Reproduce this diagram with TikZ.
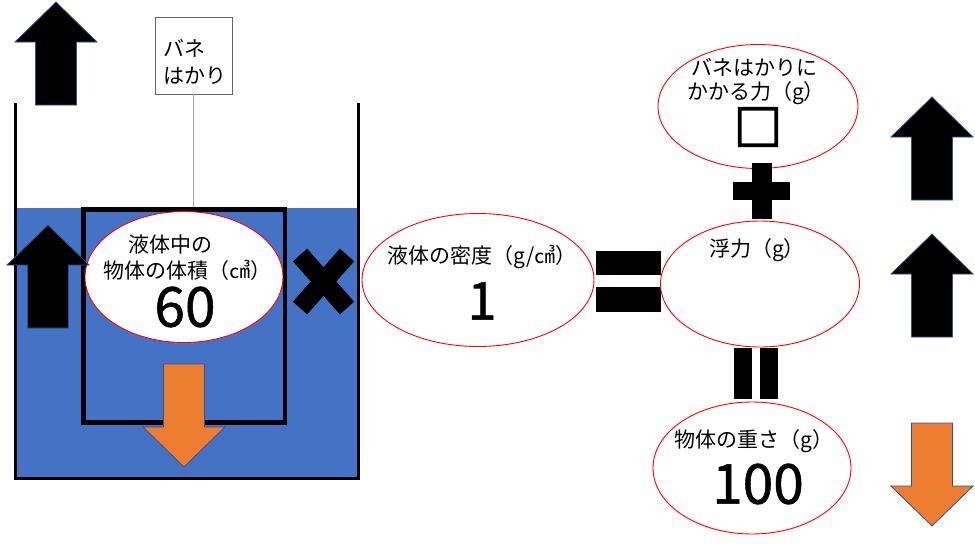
\documentclass[tikz,border=0pt]{standalone}
\usepackage{fontspec}
\setmainfont{Noto Sans CJK JP}
\newfontfamily\heavyfont[FakeBold=4]{Noto Sans CJK JP}
\newfontfamily\numfont[FakeBold=1]{Noto Sans CJK JP}
\usetikzlibrary{shapes.geometric}
\definecolor{water}{HTML}{4472C4}
\definecolor{weightorange}{HTML}{ED7D31}
\definecolor{arrowedge}{HTML}{2F528F}
\tikzset{
  bubble/.style={
    ellipse,
    draw=red,
    fill=white,
    line width=0.9pt,
    inner sep=0pt
  },
  caption/.style={inner sep=0pt, font=\fontsize{21}{27}\selectfont},
  bignum/.style={inner sep=0pt, font=\numfont\fontsize{55}{60}\selectfont},
  arrowbody/.style={draw=arrowedge, line width=0.8pt, line join=miter},
  wall/.style={line width=3pt, line cap=rect},
  mathbar/.style={fill=black}
}
\newcommand{\blockarrow}[3]{
  \draw[arrowbody, fill=#3, shift={#1}, rotate=#2]
    (-20.5,0) -- (-20.5,-63) -- (-41,-63) -- (0,-103) -- (41,-63) -- (20.5,-63) -- (20.5,0) -- cycle;
}

\begin{document}
\begin{tikzpicture}[x=1pt, y=-1pt]
  \useasboundingbox (0,0) rectangle (975,552);

  % tank with liquid
  \fill[water] (15,208) rectangle (358,478);
  \draw[wall] (15,104) -- (15,478) -- (358,478) -- (358,104);

  \node[draw=black!60, fill=white, line width=0.8pt, minimum width=77pt, minimum height=77pt] (scale) at (193.5,55.5) {};
  \node[caption, align=left] (scaletext) at (195,61.5) {バネ\\はかり};
  \node[draw=black, line width=4.5pt, minimum width=201.5pt, minimum height=213pt, inner sep=0pt] (object) at (184.3,316) {};
  \draw[gray!70, line width=1pt] (scale.south) -- (scale.south |- object.north);

  \node[bubble, minimum width=198pt, minimum height=131pt] (volbubble) at (184,277) {};
  \node[caption] (volline1) at (170,245) {液体中の};
  \node[caption] (volline2) at (187,270) {物体の体積（㎤）};
  \node[bignum] (volnum) at (185,307) {60};

  \blockarrow{(56,105)}{0}{black}
  \blockarrow{(48,328)}{0}{black}
  \blockarrow{(184,364)}{180}{weightorange}

  \draw[line width=19pt] (300,255) -- (347,308);
  \draw[line width=19pt] (347,255) -- (300,308);

  % density
  \node[bubble, minimum width=232pt, minimum height=133pt] (densbubble) at (478,280) {};
  \node[caption] (densline) at (482,257) {液体の密度（g/㎤）};
  \node[bignum, font=\numfont\fontsize{52}{56}\selectfont] (densnum) at (482,301) {1};

  \fill[mathbar] (596,251) rectangle (661,275);
  \fill[mathbar] (596,287) rectangle (661,312);

  % right column
  \node[bubble, minimum width=200pt, minimum height=124pt] (springbubble) at (758,106.5) {};
  \node[caption] (springline1) at (754,67) {バネはかりに};
  \node[caption] (springline2) at (756,93) {かかる力（g）};
  \node[inner sep=0pt, font=\heavyfont\fontsize{48}{52}\selectfont] (blank) at (758,127) {□};

  \node[bubble, minimum width=199pt, minimum height=126pt] (buoybubble) at (760,284) {};
  \node[caption] (buoyline) at (757,250) {浮力（g）};

  \node[bubble, minimum width=198pt, minimum height=132pt] (weightbubble) at (752,468) {};
  \node[caption] (weightline) at (754,441) {物体の重さ（g）};
  \node[bignum] (weightnum) at (758,484) {100};

  \fill[mathbar] (752,163) rectangle (772,219);
  \fill[mathbar] (733,182) rectangle (790,200);
  \fill[mathbar] (734,348) rectangle (752,399);
  \fill[mathbar] (760,348) rectangle (778,399);

  \blockarrow{(932,200)}{0}{black}
  \blockarrow{(932,337)}{0}{black}
  \blockarrow{(932,423)}{180}{weightorange}

\end{tikzpicture}
\end{document}
